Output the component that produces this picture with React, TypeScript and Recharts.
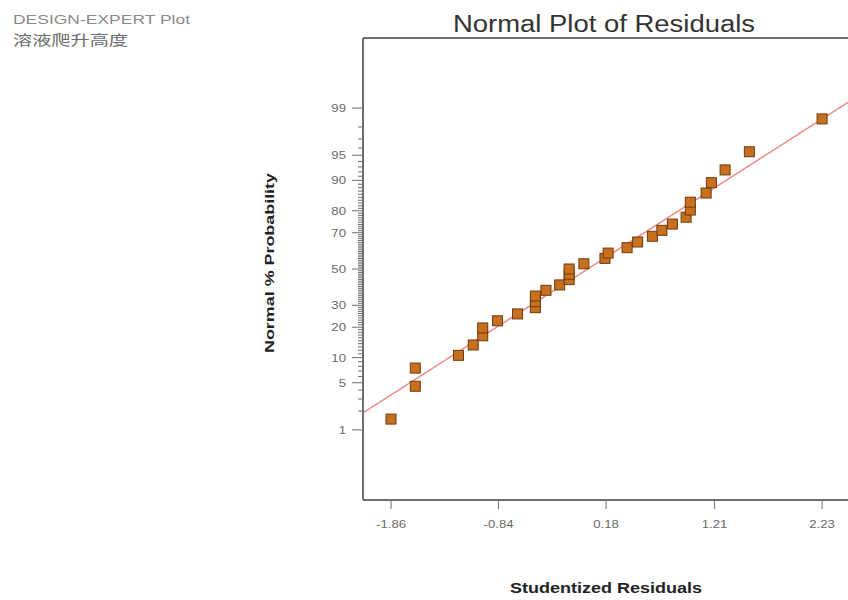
import React from 'react'
import { ScatterChart, Scatter, XAxis, YAxis, ReferenceLine } from 'recharts'

// studentized residuals, sorted
const residuals = [
  -1.86, -1.63, -1.63, -1.22, -1.08, -0.99, -0.99, -0.85, -0.66, -0.49, -0.49,
  -0.49, -0.39, -0.26, -0.17, -0.17, -0.17, -0.03, 0.17, 0.2, 0.38, 0.48,
  0.62, 0.71, 0.81, 0.94, 0.98, 0.98, 1.13, 1.18, 1.31, 1.54, 2.23
]
// normal % probability of each point
const probabilities = [
  1.5, 4.5, 7.6, 10.6, 13.6, 16.7, 19.7, 22.7, 25.8, 28.8, 31.8, 34.8, 37.9,
  40.9, 43.9, 47.0, 50.0, 53.0, 56.1, 59.1, 62.1, 65.2, 68.2, 71.2, 74.2,
  77.3, 80.3, 83.3, 86.4, 89.4, 92.4, 95.5, 98.5
]
// reference line end points (residual, %)
const fitResiduals = [-2.126, 2.476]
const fitProbabilities = [1.88, 99.2]

const xTicks = [-1.86, -0.84, 0.18, 1.21, 2.23]
const majorPercents = [1, 5, 10, 20, 30, 50, 70, 80, 90, 95, 99]
const minorPercents = Array.from({ length: 99 }, (_, i) => i + 1)

// inverse normal cdf (Acklam), used to build the probability axis
function probit(p: number) {
  const a = [-3.969683028665376e1, 2.209460984245205e2, -2.759285104469687e2, 1.38357751867269e2, -3.066479806614716e1, 2.506628277459239]
  const b = [-5.447609879822406e1, 1.615858368580409e2, -1.556989798598866e2, 6.680131188771972e1, -1.328068155288572e1]
  const c = [-7.784894002430293e-3, -3.223964580411365e-1, -2.400758277161838, -2.549671010229583, 4.374664141464968, 2.938163982698783]
  const d = [7.784695709041462e-3, 3.224671290700398e-1, 2.445134137142996, 3.754408661907416]
  const plow = 0.02425
  if (p < plow) {
    const q = Math.sqrt(-2 * Math.log(p))
    return (((((c[0] * q + c[1]) * q + c[2]) * q + c[3]) * q + c[4]) * q + c[5]) / ((((d[0] * q + d[1]) * q + d[2]) * q + d[3]) * q + 1)
  }
  if (p <= 1 - plow) {
    const q = p - 0.5
    const r = q * q
    return ((((((a[0] * r + a[1]) * r + a[2]) * r + a[3]) * r + a[4]) * r + a[5]) * q) / (((((b[0] * r + b[1]) * r + b[2]) * r + b[3]) * r + b[4]) * r + 1)
  }
  const q = Math.sqrt(-2 * Math.log(1 - p))
  return -(((((c[0] * q + c[1]) * q + c[2]) * q + c[3]) * q + c[4]) * q + c[5]) / ((((d[0] * q + d[1]) * q + d[2]) * q + d[3]) * q + 1)
}

const points = residuals.map((r, i) => ({ x: r, z: probit(probabilities[i] / 100) }))
const yTickZ = minorPercents.map((p) => probit(p / 100))
const Y_MAX = 3.34

const AXIS = '#6e6e6e'
const LABEL = '#6a6a6a'

const Square = (props: any) => {
  const { cx, cy } = props
  return <rect x={cx - 5} y={cy - 5} width={10} height={10} fill="#c9701f" stroke="#6b3a0e" strokeWidth={1} />
}

const YTick = (props: any) => {
  const { x, y, index } = props
  const pct = minorPercents[index]
  const major = majorPercents.includes(pct)
  return (
    <g>
      <line x1={x - (major ? 11 : 5)} x2={x} y1={y} y2={y} stroke={AXIS} strokeWidth={1} />
      {major && (
        <text transform={`translate(${x - 17} ${y + 4}) scale(1.2 1)`} textAnchor="end" fontSize={11} fill={LABEL} fontFamily="Liberation Sans, Arial, sans-serif">
          {pct}
        </text>
      )}
    </g>
  )
}

const XTick = (props: any) => {
  const { x, y, payload } = props
  return (
    <text transform={`translate(${x} ${y + 15}) scale(1.2 1)`} textAnchor="middle" fontSize={11} fill={LABEL} fontFamily="Liberation Sans, Arial, sans-serif">
      {payload.value}
    </text>
  )
}

export default function App() {
  const font = 'Liberation Sans, Arial, sans-serif'
  return (
    <div style={{ position: 'absolute', left: 0, top: 0, width: 848, height: 600, background: '#fff' }}>
      <ScatterChart width={848} height={600} margin={{ top: 38, right: 0, bottom: 0, left: 0 }}>
        <XAxis
          type="number"
          dataKey="x"
          domain={[fitResiduals[0], fitResiduals[1]]}
          ticks={xTicks}
          interval={0}
          height={100}
          tickSize={9}
          tickMargin={4}
          tickLine={{ stroke: AXIS }}
          axisLine={{ stroke: AXIS, strokeWidth: 2 }}
          tick={<XTick />}
          allowDataOverflow
        />
        <YAxis
          type="number"
          dataKey="z"
          domain={[-Y_MAX, Y_MAX]}
          ticks={yTickZ}
          interval={0}
          width={363}
          tickSize={0}
          tickMargin={0}
          tickLine={false}
          axisLine={{ stroke: AXIS, strokeWidth: 2 }}
          tick={<YTick />}
          allowDataOverflow
        />
        <ReferenceLine y={Y_MAX} stroke={AXIS} strokeWidth={2} />
        <ReferenceLine
          segment={[
            { x: fitResiduals[0], y: probit(fitProbabilities[0] / 100) },
            { x: fitResiduals[1], y: probit(fitProbabilities[1] / 100) }
          ]}
          stroke="#ef8a8a"
          strokeWidth={1.5}
        />
        <Scatter data={points} shape={<Square />} isAnimationActive={false} />
      </ScatterChart>
      <svg width={848} height={600} style={{ position: 'absolute', left: 0, top: 0, pointerEvents: 'none' }}>
        <text x={13} y={24} fontSize={12} fill="#8a8a8a" fontFamily={font} textLength={177} lengthAdjust="spacingAndGlyphs">
          DESIGN-EXPERT Plot
        </text>
        <text x={13} y={45} fontSize={14} fill="#6a6a6a" fontFamily="Noto Sans CJK SC, sans-serif" textLength={115} lengthAdjust="spacingAndGlyphs">
          溶液爬升高度
        </text>
        <text x={604} y={32} textAnchor="middle" fontSize={23} fill="#333" fontFamily={font} textLength={302} lengthAdjust="spacingAndGlyphs">
          Normal Plot of Residuals
        </text>
        <text x={606} y={593} textAnchor="middle" fontSize={15} fontWeight="bold" fill="#222" fontFamily={font} textLength={192} lengthAdjust="spacingAndGlyphs">
          Studentized Residuals
        </text>
        <text transform="translate(274 263) rotate(-90)" textAnchor="middle" fontSize={13} fontWeight="bold" fill="#222" fontFamily={font} textLength={180} lengthAdjust="spacingAndGlyphs">
          Normal % Probability
        </text>
      </svg>
    </div>
  )
}
